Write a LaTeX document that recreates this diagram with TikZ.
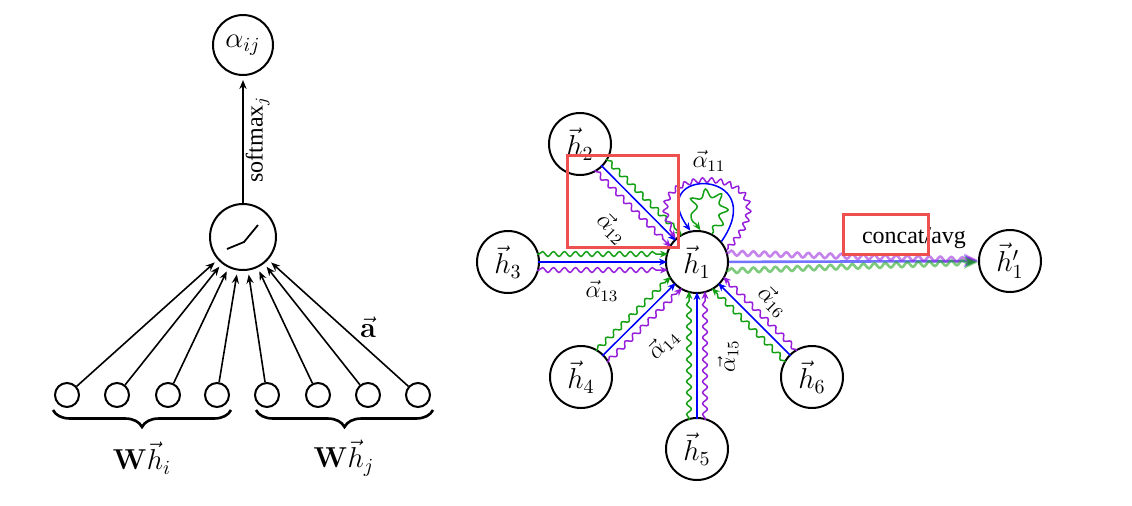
\documentclass[tikz,border=0pt]{standalone}
\usepackage[no-math]{fontspec}
\setmainfont{Liberation Serif}
\usetikzlibrary{arrows.meta,calc,decorations.pathmorphing,decorations.pathreplacing}
\definecolor{gblue}{RGB}{0,0,255}
\definecolor{ggreen}{RGB}{20,160,20}
\definecolor{gpurple}{RGB}{150,30,220}
\definecolor{redmark}{RGB}{238,80,80}
\newcommand\gatedge[2]{%
  \draw[bl] ($(#1)!15pt!(#2)$) -- ($(#2)!15pt!(#1)$);
  \draw[gr] ($(#1)!14.5pt!(#2)!4pt!90:(#2)$) -- ($(#2)!14.5pt!(#1)!4pt!-90:(#1)$);
  \draw[pu] ($(#1)!14.5pt!(#2)!4pt!-90:(#2)$) -- ($(#2)!14.5pt!(#1)!4pt!90:(#1)$);
}
\begin{document}
\begin{tikzpicture}[x=0.5pt,y=-0.5pt, font=\fontsize{12}{14}\selectfont,
  circ/.style={draw, circle, line width=1pt, inner sep=0pt},
  hnode/.style={circ, minimum size=31pt, font=\fontsize{14}{16}\selectfont},
  inp/.style={circ, minimum size=12pt},
  arr/.style={-{Stealth[length=4.5pt,width=3.6pt]}, line width=0.8pt, shorten >=2pt},
  atip/.style={-{Stealth[length=4pt,width=3.4pt]}},
  snk/.style={decorate, decoration={snake, amplitude=1.2pt, segment length=5.5pt, pre length=1pt, post length=3.5pt}},
  bl/.style={atip, gblue, line width=0.75pt},
  gr/.style={atip, ggreen, line width=0.75pt, snk},
  pu/.style={atip, gpurple, line width=0.75pt, snk},
  lbl/.style={inner sep=1pt},
  brc/.style={line width=1.3pt, decorate, decoration={brace, mirror, amplitude=8.5pt}},
  box/.style={redmark, line width=1.5pt},
  ]
\useasboundingbox (0,0) rectangle (1132,505);
% ---------- left: attention mechanism ----------
\node[circ, minimum size=30pt, font=\fontsize{14}{16}\selectfont] (aij) at (243,45) {$\alpha_{ij}$};
\node[circ, minimum size=33pt] (act) at (243,237) {};
\draw[line width=0.9pt] (227,249) -- (244,242) -- (258,225);
\foreach \i/\x in {1/67,2/117,3/168,4/217,5/267,6/318,7/368,8/418} {
  \node[inp] (w\i) at (\x,395) {};
  \draw[arr] (w\i) -- (act);
}
\draw[arr, shorten <=0pt] (act) -- node[midway, sloped, below, lbl] (sm) {softmax$_j$} (aij);
\node[lbl, font=\fontsize{14}{16}\selectfont] (avec) at (368,327) {$\vec{\mathbf{a}}$};
\draw[brc] (53,410) -- (231,410);
\draw[brc] (256,410) -- (433,410);
\node[font=\fontsize{14}{16}\selectfont] (whi) at (142,458) {$\mathbf{W}\vec{h}_i$};
\node[font=\fontsize{14}{16}\selectfont] (whj) at (344,458) {$\mathbf{W}\vec{h}_j$};
% ---------- right: multi-head aggregation ----------
\node[hnode] (h1) at (697,262) {$\vec{h}_1$};
\node[hnode] (h2) at (580,144) {$\vec{h}_2$};
\node[hnode] (h3) at (508,262) {$\vec{h}_3$};
\node[hnode] (h4) at (581,377) {$\vec{h}_4$};
\node[hnode] (h5) at (697,449) {$\vec{h}_5$};
\node[hnode] (h6) at (812,377) {$\vec{h}_6$};
\node[hnode] (h1p) at (1010,261) {$\vec{h}'_1$};
\gatedge{h2}{h1}
\gatedge{h3}{h1}
\gatedge{h4}{h1}
\gatedge{h5}{h1}
\gatedge{h6}{h1}
% self loops
\draw[pu, decoration={snake, amplitude=1.2pt, segment length=4.5pt, pre length=1pt, post length=3.5pt}]
  (h1.22) .. controls (808,162) and (616,160) .. (h1.132);
\draw[bl] (h1.40) .. controls (772,168) and (644,166) .. (h1.102);
\draw[gr, decoration={snake, amplitude=2pt, segment length=7pt, pre length=1pt, post length=3.5pt}]
  (h1.62) .. controls (750,186) and (664,182) .. (h1.84);
\node[lbl] (l11) at (709,161) {$\vec{\alpha}_{11}$};
% output
\draw[bl, line width=1.3pt, opacity=.55, -{Stealth[length=7pt,width=6pt]}] (h1) -- (h1p);
\draw[pu, line width=1.3pt, opacity=.55, -{Stealth[length=7pt,width=6pt]}, decoration={snake, amplitude=1.2pt, segment length=5.5pt, pre length=1pt, post length=6pt}]
  ($(h1)!14.5pt!(h1p)!4.5pt!90:(h1p)$) -- (h1p);
\draw[gr, line width=1.3pt, opacity=.55, -{Stealth[length=7pt,width=6pt]}, decoration={snake, amplitude=1.2pt, segment length=5.5pt, pre length=1pt, post length=6pt}]
  ($(h1)!14.5pt!(h1p)!4.5pt!-90:(h1p)$) -- (h1p);
% labels
\node[lbl, rotate=-45] (l12) at (612,228) {$\vec{\alpha}_{12}$};
\node[lbl] (l13) at (602,291) {$\vec{\alpha}_{13}$};
\node[lbl, rotate=45] (l14) at (663,344) {$\vec{\alpha}_{14}$};
\node[lbl, rotate=90] (l15) at (728,356) {$\vec{\alpha}_{15}$};
\node[lbl, rotate=-45] (l16) at (773,301) {$\vec{\alpha}_{16}$};
\node[lbl] (cat) at (914,238) {concat/avg};
% red highlight boxes
\draw[box] (567,155) rectangle (678,247);
\draw[box] (843,214) rectangle (928,254);
\end{tikzpicture}
\end{document}
